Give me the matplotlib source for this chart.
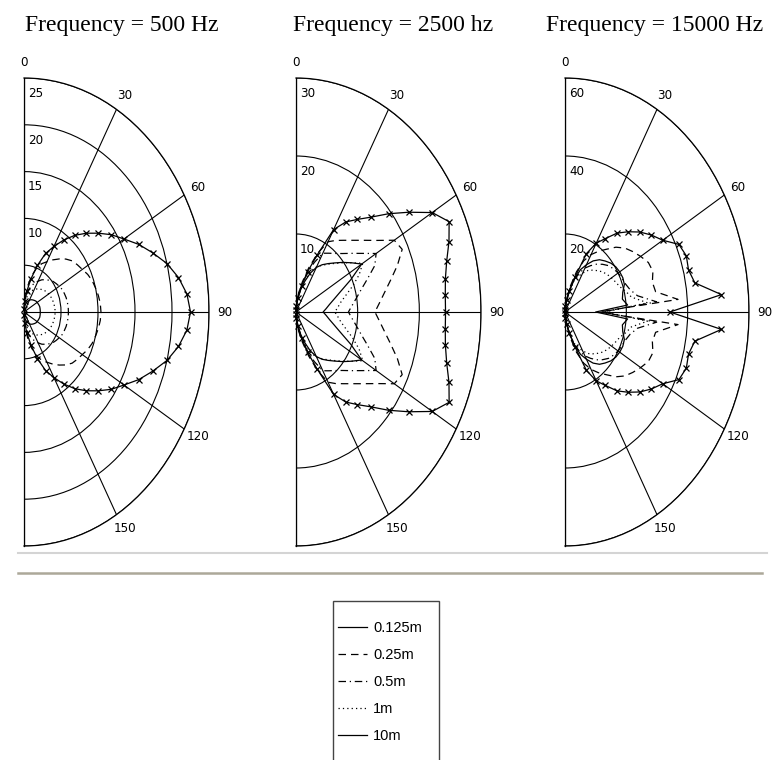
import numpy as np
import matplotlib.pyplot as plt
from matplotlib.lines import Line2D
from matplotlib.patches import Rectangle

W, H = 779, 760

# angles in degrees, 0 at top, clockwise
angles = np.arange(0, 181, 5)

titles = ['Frequency = 500 Hz', 'Frequency = 2500 hz', 'Frequency = 15000 Hz']
r_max = [25, 30, 60]
r_rings = [[5, 10, 15, 20, 25], [10, 20, 30], [20, 40, 60]]
r_ring_labels = [[10, 15, 20, 25], [10, 20, 30], [20, 40, 60]]
theta_ticks = [0, 30, 60, 90, 120, 150, 180]
theta_labels = ['0', '30', '60', '90', '120', '150', '']

series_names = ['0.125m', '0.25m', '0.5m', '1m', '10m']

# 500 Hz
p1_0125 = [0.1, 0.4, 0.7, 0.9, 1.1, 1.3, 1.45, 1.6, 1.7, 1.8, 1.9, 2.0, 2.05, 2.1, 2.15, 2.2, 2.2, 2.2, 2.2,
           2.2, 2.2, 2.2, 2.15, 2.1, 2.05, 2.0, 1.9, 1.8, 1.7, 1.6, 1.45, 1.3, 1.1, 0.9, 0.7, 0.4, 0.1]
p1_025 = [0.2, 1.3, 2.8, 4.0, 5.0, 5.7, 6.2, 6.8, 7.4, 8.0, 8.5, 8.8, 9.1, 9.5, 9.8, 10.0, 10.2, 10.35, 10.4,
          10.35, 10.2, 10.0, 9.8, 9.5, 9.1, 8.8, 8.5, 8.0, 7.4, 6.8, 6.2, 5.7, 5.0, 4.0, 2.8, 1.3, 0.2]
p1_05 = [0.2, 0.9, 1.8, 2.5, 3.0, 3.4, 3.8, 4.2, 4.5, 4.8, 5.1, 5.3, 5.5, 5.7, 5.8, 5.9, 5.95, 6.0, 6.0,
         6.0, 5.95, 5.9, 5.8, 5.7, 5.5, 5.3, 5.1, 4.8, 4.5, 4.2, 3.8, 3.4, 3.0, 2.5, 1.8, 0.9, 0.2]
p1_1 = [0.2, 0.7, 1.3, 1.8, 2.2, 2.5, 2.8, 3.0, 3.2, 3.4, 3.6, 3.7, 3.85, 3.95, 4.05, 4.1, 4.15, 4.2, 4.2,
        4.2, 4.15, 4.1, 4.05, 3.95, 3.85, 3.7, 3.6, 3.4, 3.2, 3.0, 2.8, 2.5, 2.2, 1.8, 1.3, 0.7, 0.2]
p1_10 = [0.3, 1.2, 2.3, 3.7, 5.3, 6.9, 8.1, 9.4, 10.7, 11.9, 13.1, 14.4, 15.6, 17.1, 18.5, 20.0, 21.2, 22.1, 22.5,
         22.1, 21.2, 20.0, 18.5, 17.1, 15.6, 14.4, 13.1, 11.9, 10.7, 9.4, 8.1, 6.9, 5.3, 3.7, 2.3, 1.2, 0.3]

# 2500 Hz
p2_0125 = [0.2, 0.8, 1.8, 3.0, 4.2, 5.5, 6.6, 7.4, 8.1, 8.9, 9.9, 11.0, 12.3, 9.8, 7.7, 6.4, 5.5, 4.9, 4.4,
           4.9, 5.5, 6.4, 7.7, 9.8, 12.3, 11.0, 9.9, 8.9, 8.1, 7.4, 6.6, 5.5, 4.2, 3.0, 1.8, 0.8, 0.2]
p2_025 = [0.3, 1.2, 2.5, 4.0, 6.0, 8.3, 10.4, 11.2, 12.0, 13.0, 14.3, 16.0, 18.4, 19.0, 17.5, 15.9, 14.6, 13.6, 12.8,
          13.6, 14.6, 15.9, 17.5, 19.0, 18.4, 16.0, 14.3, 13.0, 12.0, 11.2, 10.4, 8.3, 6.0, 4.0, 2.5, 1.2, 0.3]
p2_05 = [0.3, 1.0, 2.2, 3.6, 5.2, 7.0, 8.7, 9.2, 9.8, 10.6, 11.7, 13.1, 15.0, 14.1, 12.3, 10.9, 9.9, 9.1, 8.5,
         9.1, 9.9, 10.9, 12.3, 14.1, 15.0, 13.1, 11.7, 10.6, 9.8, 9.2, 8.7, 7.0, 5.2, 3.6, 2.2, 1.0, 0.3]
p2_1 = [0.3, 0.9, 2.0, 3.3, 4.6, 5.8, 6.7, 7.3, 8.0, 8.8, 9.8, 11.0, 12.5, 11.3, 9.8, 8.4, 7.4, 6.8, 6.3,
        6.8, 7.4, 8.4, 9.8, 11.3, 12.5, 11.0, 9.8, 8.8, 8.0, 7.3, 6.7, 5.8, 4.6, 3.3, 2.0, 0.9, 0.3]
p2_10 = [0.3, 0.8, 1.8, 3.5, 5.5, 8.0, 12.2, 14.1, 15.5, 17.2, 19.6, 22.3, 25.5, 27.4, 26.4, 25.3, 24.6, 24.3, 24.25,
         24.3, 24.6, 25.3, 26.4, 27.4, 25.5, 22.3, 19.6, 17.2, 15.5, 14.1, 12.2, 8.0, 5.5, 3.5, 1.8, 0.8, 0.3]

# 15000 Hz
p3_0125 = [0.3, 1.2, 3.0, 6.0, 9.0, 12.0, 14.0, 16.0, 17.5, 18.5, 19.5, 20.2, 20.6, 20.8, 20.6, 19.5, 19.0, 20.5, 10.0,
           20.5, 19.0, 19.5, 20.6, 20.8, 20.6, 20.2, 19.5, 18.5, 17.5, 16.0, 14.0, 12.0, 9.0, 6.0, 3.0, 1.2, 0.3]
p3_025 = [0.3, 1.5, 3.5, 7.0, 11.0, 14.5, 17.0, 19.0, 21.0, 23.5, 25.5, 27.0, 28.5, 30.0, 30.5, 29.5, 30.0, 37.0, 11.0,
          37.0, 30.0, 29.5, 30.5, 30.0, 28.5, 27.0, 25.5, 23.5, 21.0, 19.0, 17.0, 14.5, 11.0, 7.0, 3.5, 1.5, 0.3]
p3_05 = [0.3, 1.3, 3.0, 6.0, 9.0, 11.0, 13.0, 14.5, 16.0, 17.3, 18.5, 19.3, 20.0, 20.5, 21.0, 22.0, 24.0, 30.0, 12.0,
         30.0, 24.0, 22.0, 21.0, 20.5, 20.0, 19.3, 18.5, 17.3, 16.0, 14.5, 13.0, 11.0, 9.0, 6.0, 3.0, 1.3, 0.3]
p3_1 = [0.3, 1.2, 2.8, 5.5, 8.5, 10.0, 11.5, 13.0, 14.0, 15.0, 16.0, 16.8, 17.5, 18.2, 19.0, 20.5, 22.0, 27.0, 13.0,
        27.0, 22.0, 20.5, 19.0, 18.2, 17.5, 16.8, 16.0, 15.0, 14.0, 13.0, 11.5, 10.0, 8.5, 5.5, 2.8, 1.2, 0.3]
p3_10 = [0.5, 1.5, 3.0, 5.5, 9.5, 16.5, 20.4, 23.0, 26.4, 29.1, 31.9, 34.4, 36.8, 41.0, 42.1, 41.7, 43.0, 51.2, 34.2,
         51.2, 43.0, 41.7, 42.1, 41.0, 36.8, 34.4, 31.9, 29.1, 26.4, 23.0, 20.4, 16.5, 9.5, 5.5, 3.0, 1.5, 0.3]

panel_data = [
    [p1_0125, p1_025, p1_05, p1_1, p1_10],
    [p2_0125, p2_025, p2_05, p2_1, p2_10],
    [p3_0125, p3_025, p3_05, p3_1, p3_10],
]

styles = [
    dict(ls='-', marker=None),
    dict(ls=(0, (6, 4)), marker=None),
    dict(ls=(0, (6, 3, 1, 3)), marker=None),
    dict(ls=(0, (1, 2.5)), marker=None),
    dict(ls='-', marker='x'),
]

# pixel geometry of the (stretched) half polar plots
centers_x = [24, 296, 565]
radius_x = [185, 185, 184]
center_y = 312
radius_y = 234
title_x = [122, 393, 655]

tick_font = dict(family='DejaVu Sans', stretch='condensed', size=9.5)

fig = plt.figure(figsize=(W / 100, H / 100), dpi=100)

for i in range(3):
    cx, rx = centers_x[i], radius_x[i]
    rect = [(cx - 0.5 * rx) / W, (H - center_y - radius_y) / H, 2 * rx / W, 2 * radius_y / H]
    ax = fig.add_axes(rect, projection='polar')
    ax.set_theta_zero_location('N')
    ax.set_theta_direction(-1)
    ax.set_thetamin(0)
    ax.set_thetamax(180)
    ax.set_aspect('auto')
    ax.set_rlim(0, r_max[i])
    ax.set_yticks(r_rings[i])
    ax.set_yticklabels([])
    ax.set_xticks(np.deg2rad(theta_ticks))
    ax.set_xticklabels(theta_labels, fontdict=tick_font)
    ax.tick_params(axis='x', pad=1)
    ax.grid(True, color='black', lw=0.8, ls='-')
    for sp in ax.spines.values():
        sp.set_color('black')
        sp.set_linewidth(0.9)

    th = np.deg2rad(angles)
    for vals, st in zip(panel_data[i], styles):
        ax.plot(th, vals, color='black', lw=0.9, ls=st['ls'], marker=st['marker'],
                markersize=5, markeredgewidth=0.9, clip_on=False)

    for v in r_ring_labels[i]:
        ax.annotate(str(v), xy=(0, v), xytext=(3, -11), textcoords='offset points',
                    ha='left', va='center', annotation_clip=False, **tick_font)

    fig.text(title_x[i] / W, 1 - 31 / H, titles[i], ha='center', va='baseline',
             fontsize=17, fontfamily='Liberation Serif')

# separator lines
fig.add_artist(Line2D([18 / W, 767 / W], [1 - 553 / H, 1 - 553 / H], color='#d4d4d4', lw=1.5))
fig.add_artist(Line2D([18 / W, 762 / W], [1 - 573 / H, 1 - 573 / H], color='#aca899', lw=1.8))

# legend
handles = [Line2D([], [], color='black', lw=0.9, ls=st['ls']) for st in styles]
fig.legend(handles, series_names, loc='upper left', bbox_to_anchor=(338 / W, 1 - 621 / H),
           frameon=False, handlelength=2.0, handletextpad=0.4,
           labelspacing=0.9, borderpad=0, borderaxespad=0,
           prop={'family': 'Liberation Sans', 'size': 10.5})
fig.add_artist(Rectangle((333 / W, -0.05), 106 / W, 1 - 601 / H + 0.05, transform=fig.transFigure,
                         fill=False, edgecolor='#444444', lw=1))

fig.savefig('out.png', dpi=100, facecolor='white')
